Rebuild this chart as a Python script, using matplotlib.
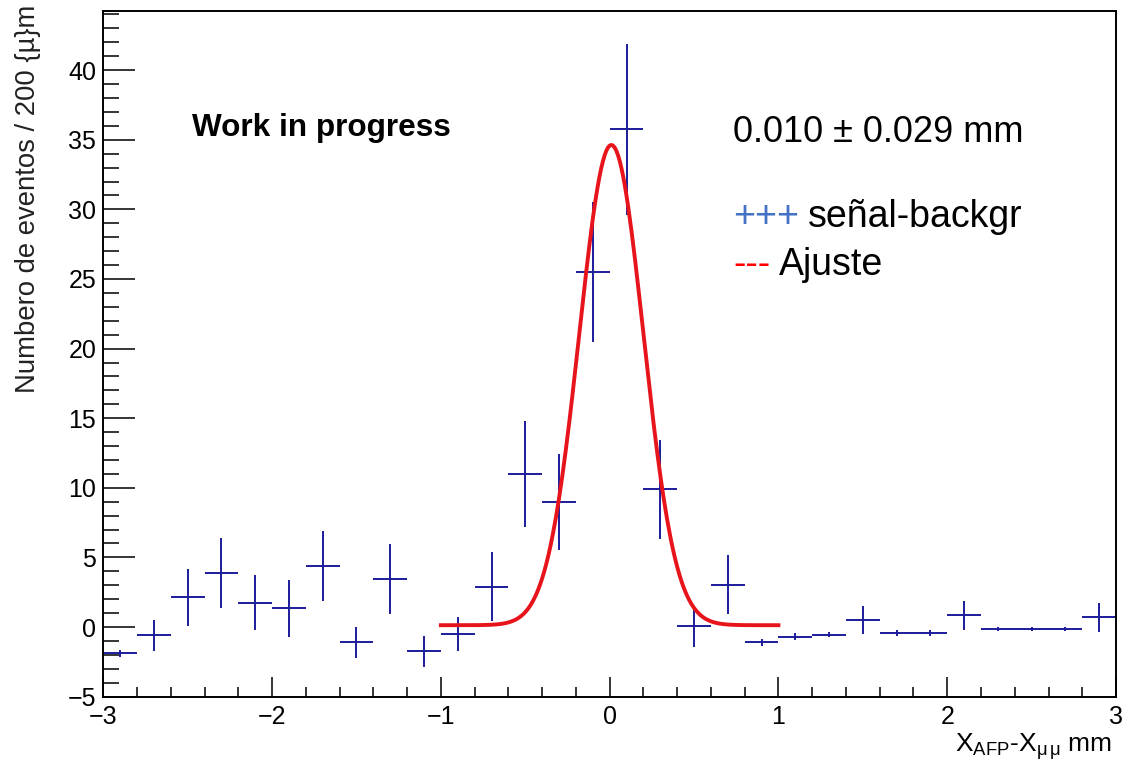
import numpy as np
import matplotlib
matplotlib.use("Agg")
import matplotlib.pyplot as plt
from matplotlib.ticker import MultipleLocator

plt.rcParams["font.family"] = ["Liberation Sans", "DejaVu Sans"]
plt.rcParams["mathtext.fontset"] = "custom"
plt.rcParams["mathtext.rm"] = "Liberation Sans"
plt.rcParams["mathtext.it"] = "Liberation Sans:italic"

# Histogram: signal - background, 0.2 mm bins
bin_centers = [-2.9, -2.7, -2.5, -2.3, -2.1, -1.9, -1.7, -1.5, -1.3, -1.1,
               -0.9, -0.7, -0.5, -0.3, -0.1, 0.1, 0.3, 0.5, 0.7, 0.9,
               1.1, 1.3, 1.5, 1.7, 1.9, 2.1, 2.3, 2.5, 2.7, 2.9]
counts = [-1.9, -0.6, 2.15, 3.9, 1.75, 1.35, 4.4, -1.1, 3.45, -1.75,
          -0.5, 2.9, 11.0, 9.0, 25.5, 35.75, 9.9, 0.05, 3.05, -1.1,
          -0.7, -0.55, 0.5, -0.45, -0.45, 0.85, -0.15, -0.15, -0.15, 0.7]
errors = [0.25, 1.1, 2.05, 2.5, 2.0, 2.05, 2.5, 1.1, 2.5, 1.1,
          1.25, 2.5, 3.8, 3.45, 5.0, 6.15, 3.55, 1.45, 2.1, 0.25,
          0.25, 0.2, 1.03, 0.2, 0.2, 1.05, 0.15, 0.15, 0.15, 1.05]
half_bin = 0.1

# Gaussian + constant fit ("Ajuste"), drawn over [-1, 1]
fit_amp = 34.5
fit_mean = 0.01
fit_sigma = 0.19
fit_const = 0.13
fit_range = (-1.0, 1.0)

navy = "#1c1c9a"

fig = plt.figure(figsize=(11.24, 7.61), dpi=100)
ax = fig.add_axes([0.0919, 0.0846, 0.9929 - 0.0919, 0.9859 - 0.0846])

ax.errorbar(bin_centers, counts, xerr=half_bin, yerr=errors, fmt="none",
            ecolor=navy, elinewidth=1.4, capsize=0)

x_fit = np.linspace(fit_range[0], fit_range[1], 201)
y_fit = fit_amp * np.exp(-0.5 * ((x_fit - fit_mean) / fit_sigma) ** 2) + fit_const
ax.plot(x_fit, y_fit, color="#e8141c", linewidth=2.8)

ax.set_xlim(-3, 3)
ax.set_ylim(-5, 44.27)
ax.xaxis.set_major_locator(MultipleLocator(1))
ax.xaxis.set_minor_locator(MultipleLocator(0.2))
ax.yaxis.set_major_locator(MultipleLocator(5))
ax.yaxis.set_minor_locator(MultipleLocator(1))

for s in ax.spines.values():
    s.set_linewidth(1.4)
ax.tick_params(axis="y", which="major", direction="in", length=23, width=1.1,
               labelsize=18, pad=5)
ax.tick_params(axis="y", which="minor", direction="in", length=11.5, width=1.1)
ax.tick_params(axis="x", which="major", direction="in", length=14.5, width=1.1,
               labelsize=18, pad=6)
ax.tick_params(axis="x", which="minor", direction="in", length=7, width=1.1)

W, H = 1124, 761
fig.text(1112 / W, 1 - 752 / H, r"X$_{\mathrm{AFP}}$-X$_{\mathrm{\mu\,\mu}}$ mm",
         ha="right", va="baseline", fontsize=19)
fig.text(28 / W, 1 - 5 / H, "Numbero de eventos / 200 {\u00b5}m", rotation=90,
         ha="center", va="top", fontsize=19.8, color="#222222")

fig.text(192 / W, 1 - 136 / H, "Work in progress", ha="left", va="baseline",
         fontsize=22.7, fontweight="bold")
fig.text(733 / W, 1 - 142 / H, "0.010 \u00b1 0.029 mm", ha="left", va="baseline",
         fontsize=26)
fig.text(733 / W, 1 - 227 / H, "+++", ha="left", va="baseline", fontsize=27,
         color="#4472c4")
fig.text(808 / W, 1 - 227 / H, "se\u00f1al-backgr", ha="left", va="baseline",
         fontsize=27)
fig.text(733 / W, 1 - 275 / H, "---", ha="left", va="baseline", fontsize=27,
         color="red")
fig.text(779 / W, 1 - 275 / H, "Ajuste", ha="left", va="baseline", fontsize=27)

fig.savefig("out.png", dpi=100)
